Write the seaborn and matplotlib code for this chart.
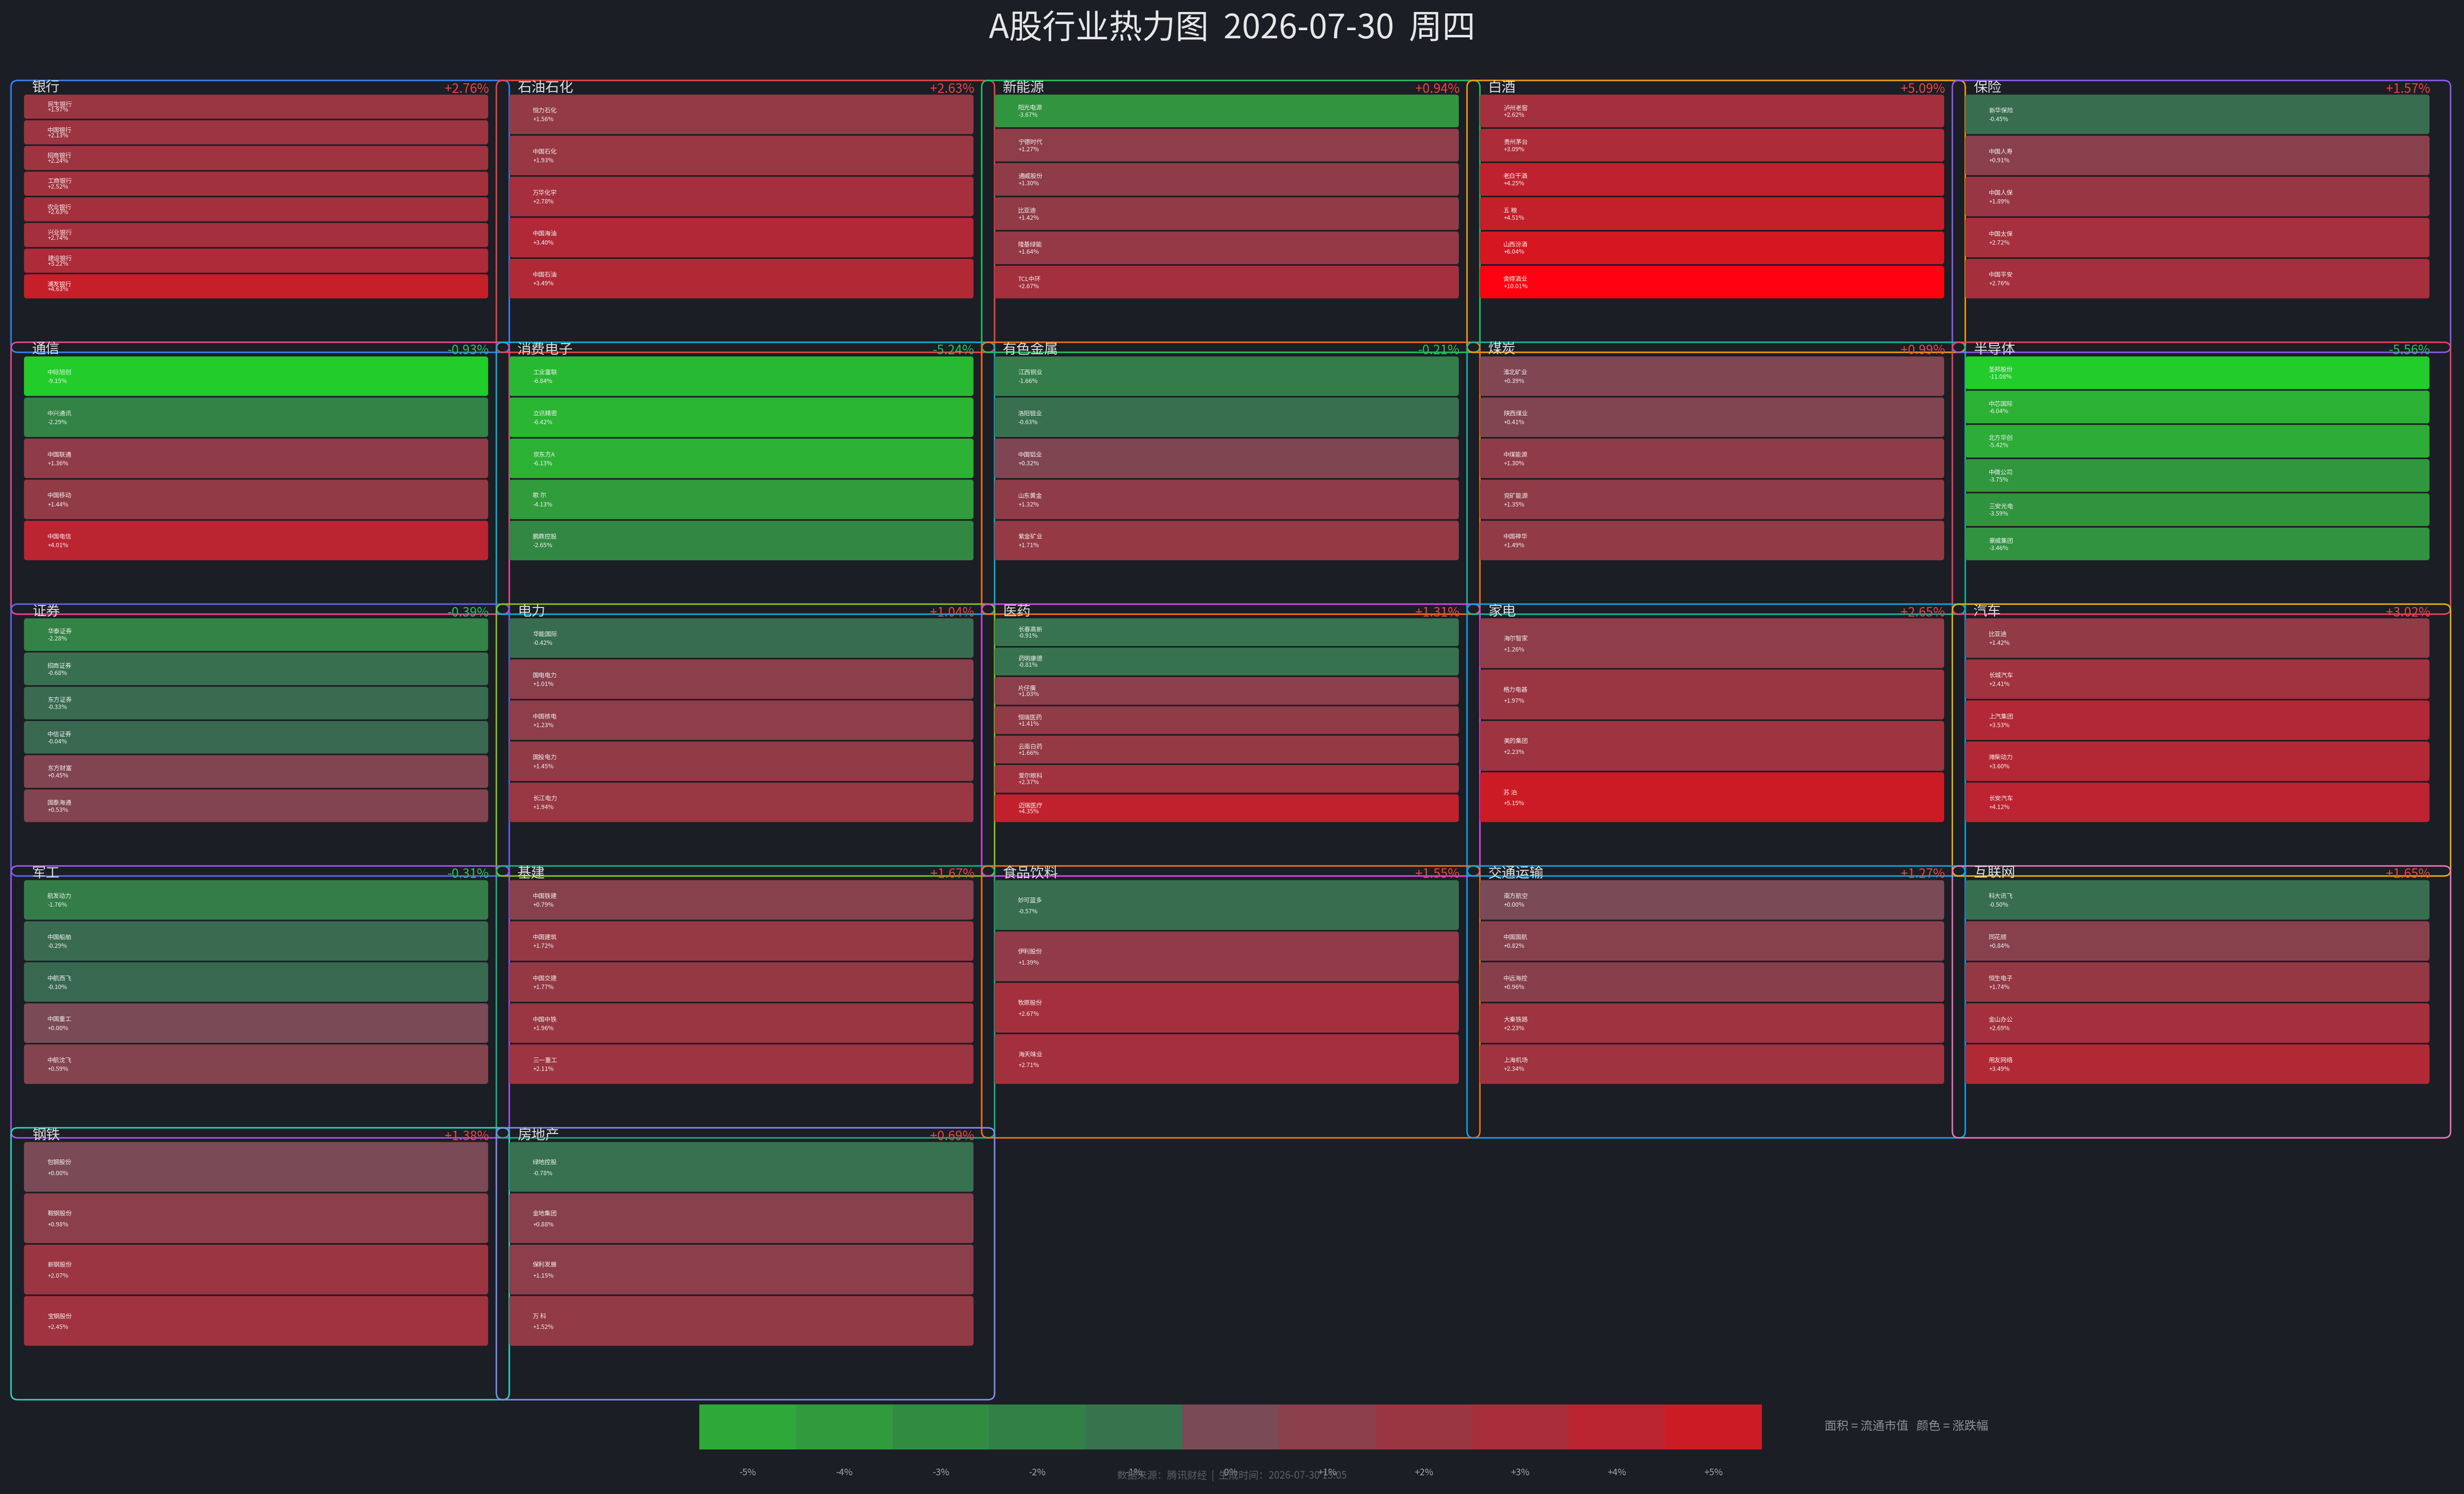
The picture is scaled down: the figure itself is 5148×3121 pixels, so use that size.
import numpy as np
import pandas as pd
import matplotlib
matplotlib.use("Agg")
import matplotlib.pyplot as plt
from matplotlib.patches import FancyBboxPatch
from matplotlib.colors import ListedColormap, to_rgb
import seaborn as sns

# ---- data ----
SECTORS = ["银行", "石油石化", "新能源", "白酒", "保险",
           "通信", "消费电子", "有色金属", "煤炭", "半导体",
           "证券", "电力", "医药", "家电", "汽车",
           "军工", "基建", "食品饮料", "交通运输", "互联网",
           "钢铁", "房地产"]
SECTOR_PCT = [2.76, 2.63, 0.94, 5.09, 1.57,
              -0.93, -5.24, -0.21, 0.99, -5.56,
              -0.39, 1.04, 1.31, 2.65, 3.02,
              -0.31, 1.67, 1.55, 1.27, 1.65,
              1.38, 0.69]

bank_names = ["民生银行", "中国银行", "招商银行", "工商银行", "农业银行", "兴业银行", "建设银行", "浦发银行"]
bank_pct = [1.97, 2.13, 2.24, 2.52, 2.63, 2.74, 3.22, 4.63]
oil_names = ["恒力石化", "中国石化", "万华化学", "中国海油", "中国石油"]
oil_pct = [1.56, 1.93, 2.78, 3.40, 3.49]
newenergy_names = ["阳光电源", "宁德时代", "通威股份", "比亚迪", "隆基绿能", "TCL中环"]
newenergy_pct = [-3.67, 1.27, 1.30, 1.42, 1.64, 2.67]
liquor_names = ["泸州老窖", "贵州茅台", "老白干酒", "五 粮", "山西汾酒", "舍得酒业"]
liquor_pct = [2.62, 3.09, 4.25, 4.51, 6.04, 10.01]
insure_names = ["新华保险", "中国人寿", "中国人保", "中国太保", "中国平安"]
insure_pct = [-0.45, 0.91, 1.89, 2.72, 2.76]

telecom_names = ["中际旭创", "中兴通讯", "中国联通", "中国移动", "中国电信"]
telecom_pct = [-9.15, -2.29, 1.36, 1.44, 4.01]
consumer_names = ["工业富联", "立讯精密", "京东方A", "歌 尔", "鹏鼎控股"]
consumer_pct = [-6.84, -6.42, -6.13, -4.13, -2.65]
metal_names = ["江西铜业", "洛阳钼业", "中国铝业", "山东黄金", "紫金矿业"]
metal_pct = [-1.66, -0.63, 0.32, 1.32, 1.71]
coal_names = ["淮北矿业", "陕西煤业", "中煤能源", "兖矿能源", "中国神华"]
coal_pct = [0.39, 0.41, 1.30, 1.35, 1.49]
semi_names = ["圣邦股份", "中芯国际", "北方华创", "中微公司", "三安光电", "豪威集团"]
semi_pct = [-11.08, -6.04, -5.42, -3.75, -3.59, -3.46]

broker_names = ["华泰证券", "招商证券", "东方证券", "中信证券", "东方财富", "国泰海通"]
broker_pct = [-2.28, -0.68, -0.33, -0.04, 0.45, 0.53]
power_names = ["华能国际", "国电电力", "中国核电", "国投电力", "长江电力"]
power_pct = [-0.42, 1.01, 1.23, 1.45, 1.94]
pharma_names = ["长春高新", "药明康德", "片仔癀", "恒瑞医药", "云南白药", "爱尔眼科", "迈瑞医疗"]
pharma_pct = [-0.91, -0.81, 1.03, 1.41, 1.66, 2.37, 4.35]
appliance_names = ["海尔智家", "格力电器", "美的集团", "苏 泊"]
appliance_pct = [1.26, 1.97, 2.23, 5.15]
auto_names = ["比亚迪", "长城汽车", "上汽集团", "潍柴动力", "长安汽车"]
auto_pct = [1.42, 2.41, 3.53, 3.60, 4.12]

defense_names = ["航发动力", "中国船舶", "中航西飞", "中国重工", "中航沈飞"]
defense_pct = [-1.76, -0.29, -0.10, 0.00, 0.59]
infra_names = ["中国铁建", "中国建筑", "中国交建", "中国中铁", "三一重工"]
infra_pct = [0.79, 1.72, 1.77, 1.96, 2.11]
food_names = ["妙可蓝多", "伊利股份", "牧原股份", "海天味业"]
food_pct = [-0.57, 1.39, 2.67, 2.71]
transport_names = ["南方航空", "中国国航", "中远海控", "大秦铁路", "上海机场"]
transport_pct = [0.00, 0.82, 0.96, 2.23, 2.34]
internet_names = ["科大讯飞", "同花顺", "恒生电子", "金山办公", "用友网络"]
internet_pct = [-0.50, 0.84, 1.74, 2.69, 3.49]

steel_names = ["包钢股份", "鞍钢股份", "新钢股份", "宝钢股份"]
steel_pct = [0.00, 0.98, 2.07, 2.45]
estate_names = ["绿地控股", "金地集团", "保利发展", "万 科"]
estate_pct = [-0.78, 0.88, 1.15, 1.52]

STOCK_NAMES = [bank_names, oil_names, newenergy_names, liquor_names, insure_names,
               telecom_names, consumer_names, metal_names, coal_names, semi_names,
               broker_names, power_names, pharma_names, appliance_names, auto_names,
               defense_names, infra_names, food_names, transport_names, internet_names,
               steel_names, estate_names]
STOCK_PCT = [bank_pct, oil_pct, newenergy_pct, liquor_pct, insure_pct,
             telecom_pct, consumer_pct, metal_pct, coal_pct, semi_pct,
             broker_pct, power_pct, pharma_pct, appliance_pct, auto_pct,
             defense_pct, infra_pct, food_pct, transport_pct, internet_pct,
             steel_pct, estate_pct]

LEGEND_STEPS = [-5, -4, -3, -2, -1, 0, 1, 2, 3, 4, 5]

# ---- style ----
BG = "#1b1e25"
BOX_COLORS = ["#3b82f6", "#ef4444", "#22c55e", "#f59e0b", "#8b5cf6",
              "#ec4899", "#06b6d4", "#f97316", "#14b8a6", "#f43f5e",
              "#6366f1", "#84cc16", "#d946ef", "#0ea5e9", "#eab308",
              "#a855f7", "#10b981", "#f97316", "#0ea5e9", "#f472b6",
              "#2dd4bf", "#818cf8"]
NEG_STOPS = [-9, -5, -4, -3, -2, -1, 0]
NEG_COLORS = ["#22cc2a", "#2ea838", "#309a3c", "#318c42", "#338046", "#37744e", "#396751"]
POS_STOPS = [0, 1, 2, 3, 4, 5, 10]
POS_COLORS = ["#7a4a56", "#8a3f4b", "#9a3642", "#aa2d3b", "#bb2431", "#cb1c26", "#ff0010"]
LEGEND_COLORS = NEG_COLORS[1:6] + POS_COLORS[:6]

W, H = 5148, 3121
COL0, COL_STEP, BOX_W = 23, 1014, 1041
ROW0, ROW_STEP, BOX_H = 168, 547, 568
TILE_DX, TILE_W, TILE_DY, TILE_H = 27, 970, 28, 429

sns.set_style("dark")
plt.rcParams["font.family"] = ["Noto Sans CJK SC", "DejaVu Sans"]
plt.rcParams["axes.unicode_minus"] = False


def tile_color(p):
    xs, cs = (NEG_STOPS, NEG_COLORS) if p < 0 else (POS_STOPS, POS_COLORS)
    rgb = np.array([to_rgb(c) for c in cs])
    return tuple(float(np.interp(p, xs, rgb[:, k])) for k in range(3))


def px_axes(x, y, w, h):
    return fig.add_axes([x / W, 1 - (y + h) / H, w / W, h / H])


def round_bars(ax, n, radius=6):
    # swap seaborn's square bars for rounded ones of the same extent
    aspect = (n / TILE_H) * TILE_W
    for bar in list(ax.patches):
        x0, y0 = bar.get_xy()
        fb = FancyBboxPatch((x0, y0), bar.get_width(), bar.get_height(),
                            boxstyle=f"round,pad=0,rounding_size={radius / TILE_W}",
                            mutation_aspect=aspect, fc=bar.get_facecolor(),
                            ec=(0, 0, 0, 0.18), lw=0.6)
        bar.remove()
        ax.add_patch(fb)


fig = plt.figure(figsize=(W / 100, H / 100), dpi=100, facecolor=BG)

# overlay for the rounded panel frames
ov = fig.add_axes([0, 0, 1, 1])
ov.set_xlim(0, W)
ov.set_ylim(H, 0)
ov.axis("off")
ov.set_zorder(0)

for k, (sector, spct) in enumerate(zip(SECTORS, SECTOR_PCT)):
    r, c = divmod(k, 5)
    bx = COL0 + c * COL_STEP
    by = ROW0 + r * ROW_STEP
    ov.add_patch(FancyBboxPatch((bx, by), BOX_W, BOX_H,
                                boxstyle="round,pad=0,rounding_size=14",
                                fill=False, ec=BOX_COLORS[k], lw=2.2))

    names, pcts = STOCK_NAMES[k], STOCK_PCT[k]
    n = len(names)
    df = pd.DataFrame({"name": names, "pct": pcts, "size": 1.0})
    bar_w = 1 - 3 / (TILE_H / n)

    ax = px_axes(bx + TILE_DX, by + TILE_DY, TILE_W, TILE_H)
    ax.set_zorder(1)
    ax.patch.set_alpha(0)
    sns.barplot(data=df, x="size", y="name", hue="name",
                palette=[tile_color(p) for p in pcts], legend=False,
                orient="h", width=bar_w, saturation=1, errorbar=None,
                linewidth=0, ax=ax)
    ax.set_xlim(0, 1)
    ax.set_ylim(n - 0.5, -0.5)
    ax.axis("off")
    round_bars(ax, n)

    tr = ax.get_yaxis_transform()
    for i, (nm, p) in enumerate(zip(names, pcts)):
        top = i - bar_w / 2
        ax.text(49 / TILE_W, top + 0.41 * bar_w, nm, transform=tr,
                ha="left", va="center", fontsize=9.2, color="#f2f2f2")
        ax.text(49 / TILE_W, top + 0.63 * bar_w, f"{p:+.2f}%", transform=tr,
                ha="left", va="center", fontsize=9.2, color="#f2f2f2")

    fig.text((bx + 44) / W, 1 - (by + 16) / H, sector, ha="left", va="center",
             fontsize=21, color="#dcdcdc", zorder=5)
    fig.text((bx + BOX_W - 42) / W, 1 - (by + 18) / H, f"{spct:+.2f}%",
             ha="right", va="center", fontsize=19.5,
             color="#ef4444" if spct >= 0 else "#22c55e", zorder=5)

# title
fig.text(0.5, 1 - 60 / H, "A股行业热力图  2026-07-30  周四", ha="center", va="center",
         fontsize=50, color="#e6e6e6")

# colour legend
lax = px_axes(1461, 2934, 2220, 94)
sns.heatmap(np.array([LEGEND_STEPS]), cmap=ListedColormap(LEGEND_COLORS),
            vmin=-5.5, vmax=5.5, cbar=False, linewidths=0, ax=lax)
lax.set_yticks([])
lax.set_xticks(np.arange(len(LEGEND_STEPS)) + 0.5)
lax.set_xticklabels([f"+{v}%" if v > 0 else f"{v}%" for v in LEGEND_STEPS],
                    color="#a0a4aa", fontsize=14, rotation=0)
lax.tick_params(length=0, pad=27)
for s in lax.spines.values():
    s.set_visible(False)

fig.text(3812 / W, 1 - 2980 / H, "面积 = 流通市值   颜色 = 涨跌幅", ha="left", va="center",
         fontsize=18, color="#8b9099")
fig.text(0.5, 1 - 3083 / H, "数据来源：腾讯财经  |  生成时间：2026-07-30 15:05",
         ha="center", va="center", fontsize=15, color="#5c6068")

fig.savefig("out.png", dpi=100, facecolor=BG)
